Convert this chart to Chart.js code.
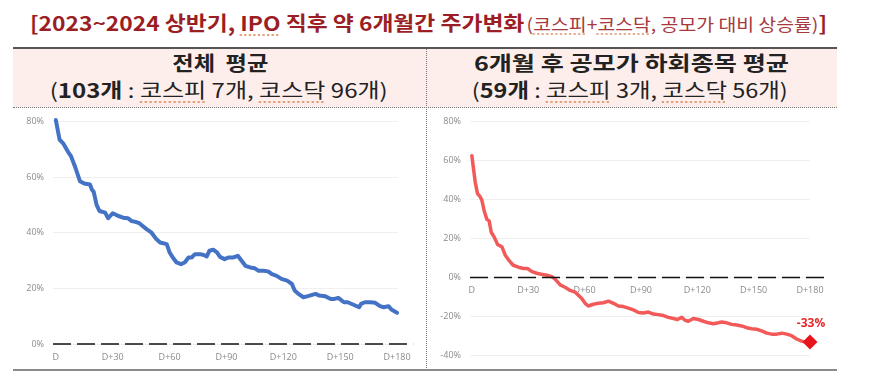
<!DOCTYPE html>
<html><head><meta charset="utf-8">
<script src="https://cdn.jsdelivr.net/npm/chart.js@4.4.1/dist/chart.umd.min.js"></script>
<style>
html,body{margin:0;padding:0;background:#fff;width:872px;height:372px;overflow:hidden;position:relative;font-family:"Noto Sans CJK KR","Noto Sans",sans-serif;}
.abs{position:absolute;white-space:nowrap;line-height:1;}
#title{left:30px;top:13px;font-size:20px;color:#9a1e24;font-weight:700;transform-origin:left center;}
#title .sub{font-weight:400;font-size:17px;color:#a8383d;margin-left:2px;}
.sq{text-decoration:underline dotted #e3a07a;text-underline-offset:3px;}
#band{left:13px;top:47px;width:824px;height:58px;background:#fdeeec;border-top:2px solid #555;border-bottom:1px dotted #777;}
#vsep{left:426px;top:49px;width:0;height:321px;border-left:1px dotted #777;}
#bottom{left:13px;top:369px;width:824px;height:0;border-top:2px solid #8a8a8a;}
.h1{font-size:20px;font-weight:700;color:#222;transform-origin:center center;}
.h2{font-size:20px;font-weight:400;color:#222;transform-origin:center center;}
canvas{position:absolute;}
</style></head>
<body>
<div id="band" class="abs"></div>
<div id="vsep" class="abs"></div>
<div id="bottom" class="abs"></div>
<div id="title" class="abs">[2023~2024 상반기, <span class="sq">IPO</span> 직후 약 6개월간 주가변화<span class="sub">(<span class="sq">코스피</span>+<span class="sq">코스닥</span>, 공모가 대비 상승률)</span>]</div>
<div id="hl1" class="abs h1">전체&nbsp; 평균</div>
<div id="hl2" class="abs h2">(<b>103개</b> : <span class="sq">코스피</span> 7개, <span class="sq">코스닥</span> 96개)</div>
<div id="hr1" class="abs h1">6개월 후 공모가 하회종목 평균</div>
<div id="hr2" class="abs h2">(<b>59개</b> : <span class="sq">코스피</span> 3개, <span class="sq">코스닥</span> 56개)</div>
<div style="position:absolute;left:0;top:107px;width:425px;height:263px;"><canvas id="cL"></canvas></div>
<div style="position:absolute;left:426px;top:107px;width:446px;height:263px;"><canvas id="cR"></canvas></div>
<script>
// ---- data ----
const xTickValues = [0, 30, 60, 90, 120, 150, 180];
const xTickLabels = ["D", "D+30", "D+60", "D+90", "D+120", "D+150", "D+180"];

const leftDays = [0,2,4,6.5,8,10,12.7,15,18,19,20,21.5,23,26,27.6,30,33,35.5,38,40,42,44,48,50.5,53,55,58.5,60,62,63.7,66,68,70,71.6,73.4,76,78,79.6,81,83,85,86.6,89,91,93.7,96,98,100,102.5,105,107,109.5,112,114,116.5,119,122,124.5,126,128,130.6,133,137,139,142,145,147,149,152,154,157,160,161,163,166,168.5,171,173,175.5,177,180];
const leftValues = [80.5,73.4,72,69,67.5,64,58.5,57.7,57.3,55.5,54.6,50,47.8,47.2,45.2,47,46,45.4,45.2,44.2,43.9,43.4,41.2,40,37.7,36.5,35.9,32.9,30.8,29.3,28.7,29.3,31.1,31.1,32.3,32.3,32,31.5,33.5,33.9,32.9,31.3,30.5,31.1,31.1,31.7,29.9,28.1,27.5,27.2,26.3,26.3,26.1,25.1,24.5,23.4,22.8,21.6,19.2,18,16.8,17.2,18,17.4,17.2,16.2,16.2,16.6,15,15,14.1,13.2,14.4,15,15,14.8,13.6,13.2,13.6,12.4,11.2];

const rightDays = [0,0.9,1.8,3,4.4,5.3,6.6,8,9.2,10.3,11.9,13.7,16,17.7,19.5,22,24.8,27.5,29.6,32,34.6,37,40,42.5,44.3,47,49.6,52.3,55,56.7,58.5,60.3,62,64.7,67.4,70,72.7,75.4,78,80.7,83.3,86,88.7,91.3,94,96.6,99.3,102,104.6,107.3,109.4,111.7,113.5,115.2,117.9,120.6,123.2,125.9,128.5,131.2,133,135.6,138.3,141,143.6,146.3,149,151.6,154.3,157,159.6,162.2,165,167.6,170.2,172.9,175.5,178,180];
const rightValues = [62.4,55.5,48.8,43,41.4,39.7,34,29.8,29,23.2,20.7,16.9,15.7,11.6,9.1,6.3,5.3,4.6,4.6,3,2.2,1.7,1.2,0.5,-0.8,-3.8,-5,-6.6,-7.5,-9.1,-10.8,-13.2,-14.6,-13.7,-13.2,-12.9,-12.1,-13.2,-14.6,-14.9,-15.7,-16.6,-17.9,-18.2,-17.7,-18.7,-19,-19.5,-20.4,-21,-21.5,-20.4,-21.9,-22.4,-21,-21.5,-22.4,-23.2,-23.7,-23.2,-22.8,-23.2,-24,-24.3,-24.8,-25.7,-26.2,-26.5,-27.3,-28.5,-29,-29,-28.5,-29,-29.8,-31.5,-32.6,-33.1,-33];

// ---- helpers ----
const toXY = (xs, ys) => xs.map((x, i) => ({x, y: ys[i]}));
const tickFont = {family: "'Open Sans','Noto Sans',sans-serif", size: 9};
const tickColor = '#8a8a8a';

function xScale(min, max, extra) {
  return Object.assign({
    type: 'linear', min, max,
    afterBuildTicks: s => { s.ticks = xTickValues.map(v => ({value: v})); },
    ticks: {font: tickFont, color: tickColor, padding: 8, maxRotation: 0, autoSkip: false,
      callback: v => xTickLabels[xTickValues.indexOf(v)] ?? ''},
    grid: {display: false, drawTicks: false},
    border: {display: false}
  }, extra || {});
}
function yScale(min, max, w) {
  return {
    min, max,
    afterBuildTicks: s => { const t = []; for (let v = min; v <= max; v += 20) t.push({value: v}); s.ticks = t; },
    afterFit: s => { s.width = w; },
    ticks: {font: tickFont, color: tickColor, padding: 9, callback: v => v + '%'},
    grid: {color: '#efefef', drawTicks: false, lineWidth: 1},
    border: {display: false}
  };
}
function zeroLine(x0, x1) {
  return {data: [{x: x0, y: 0}, {x: x1, y: 0}], borderColor: '#111', borderWidth: 1.6,
    borderDash: [18, 6], pointRadius: 0, clip: false, order: 0};
}

Chart.defaults.animation = false;
Chart.defaults.responsive = true;
Chart.defaults.maintainAspectRatio = false;

new Chart(document.getElementById('cL'), {
  type: 'line',
  data: {datasets: [
    {data: toXY(leftDays, leftValues), borderColor: '#4472c4', borderWidth: 4, pointRadius: 0,
     tension: 0, borderJoinStyle: 'round', borderCapStyle: 'round', order: 1, clip: 6},
    zeroLine(-1.5, 188.5)
  ]},
  options: {
    layout: {padding: {top: 13, right: 27, left: 0, bottom: 0}},
    plugins: {legend: {display: false}, tooltip: {enabled: false}},
    scales: {
      x: xScale(-1.5, 180.5, {afterFit: s => { s.height = 26; }}),
      y: yScale(0, 80, 53)
    }
  }
});

const endLabelPlugin = {
  id: 'endLabel',
  afterDatasetsDraw(chart) {
    const meta = chart.getDatasetMeta(0);
    const pt = meta.data[meta.data.length - 1];
    const val = rightValues[rightValues.length - 1];
    const ctx = chart.ctx;
    ctx.save();
    ctx.font = "bold 12px 'Open Sans','Noto Sans',sans-serif";
    ctx.fillStyle = '#e8272b';
    ctx.textAlign = 'center';
    ctx.textBaseline = 'middle';
    ctx.fillText(Math.round(val) + '%', pt.x + 1, pt.y - 18);
    ctx.restore();
  }
};

new Chart(document.getElementById('cR'), {
  type: 'line',
  data: {datasets: [
    {data: toXY(rightDays, rightValues), borderColor: '#f25a5a', borderWidth: 3.5, tension: 0,
     borderJoinStyle: 'round', borderCapStyle: 'round', order: 1, clip: 8,
     pointRadius: ctx => ctx.dataIndex === rightDays.length - 1 ? 5 : 0,
     pointStyle: 'rectRot', pointBackgroundColor: '#e8141b', pointBorderColor: '#e8141b'},
    zeroLine(-1, 190.5)
  ]},
  options: {
    layout: {padding: {top: 12, right: 62, left: 0, bottom: 9}},
    plugins: {legend: {display: false}, tooltip: {enabled: false}},
    scales: {
      x: xScale(-1, 180, {position: {y: 0}}),
      y: yScale(-40, 80, 44)
    }
  },
  plugins: [endLabelPlugin]
});

// ---- fit header text to reference widths ----
function place(id, cx, cy, width, alignLeft) {
  const el = document.getElementById(id);
  const r = el.getBoundingClientRect();
  const s = width / r.width;
  if (alignLeft) {
    el.style.left = cx + 'px';
  } else {
    el.style.left = (cx - r.width / 2) + 'px';
  }
  el.style.top = (cy - r.height / 2) + 'px';
  el.style.transform = 'scaleX(' + s + ')';
}
place('title', 30, 23, 797, true);
place('hl1', 220, 63, 96);
place('hl2', 219, 90, 338);
place('hr1', 631, 63, 315);
place('hr2', 630, 90, 316);
</script>
</body></html>
